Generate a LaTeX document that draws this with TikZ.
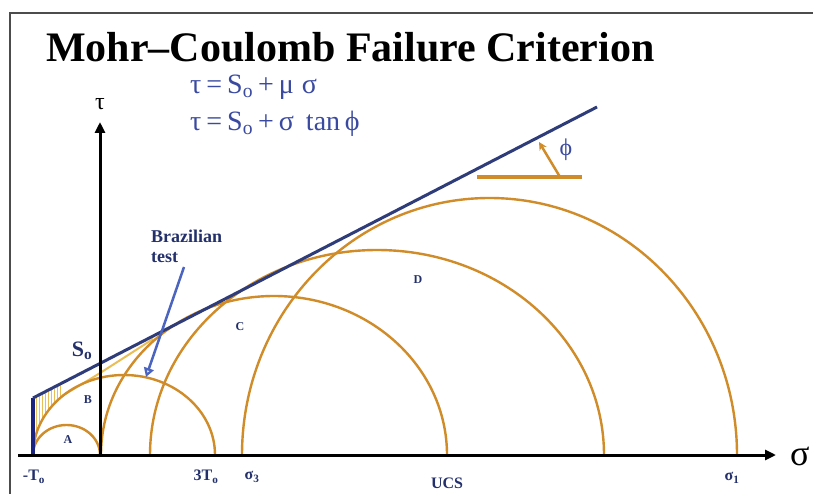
\documentclass[tikz,border=0pt]{standalone}
\usepackage{fontspec}
\setmainfont{Liberation Serif}
\usetikzlibrary{arrows.meta}
\definecolor{env}{HTML}{2E3C7A}
\definecolor{ora}{HTML}{D08C28}
\definecolor{yel}{HTML}{E9BE55}
\definecolor{navy}{HTML}{23306B}
\definecolor{eqblue}{HTML}{3A4AA0}
\definecolor{brz}{HTML}{4A64C0}
\definecolor{tzero}{HTML}{1A2380}
\newcommand{\opsp}{\hspace{5pt}}
\begin{document}
\begin{tikzpicture}[x=1pt,y=-1pt,
  circ/.style={ora, line width=2.4pt},
  lab/.style={font=\bfseries\fontsize{16}{16}\selectfont, text=navy, inner sep=0pt},
  small/.style={font=\bfseries\fontsize{12}{12}\selectfont, text=navy, inner sep=0pt},
  eq/.style={font=\fontsize{28}{28}\selectfont, text=eqblue, inner sep=0pt, anchor=base west},
  axis/.style={line width=3pt, black, -{Triangle[length=11pt,width=10pt]}}]
\useasboundingbox (0,0) rectangle (813,494);
\fill[white] (0,0) rectangle (813,494);
% frame
\draw[line width=2pt, black!70] (10,520) -- (10,13) -- (830,13);
% title
\node[anchor=base west, inner sep=0pt, font=\bfseries\fontsize{42}{42}\selectfont] (title) at (46,62) {Mohr–Coulomb Failure Criterion};
% equations
\node[eq] (eq1) at (190,94) {τ\opsp=\opsp S\textsubscript{o}\opsp+\opsp μ\hspace{8pt}σ};
\node[eq] (eq2) at (190,131) {τ\opsp=\opsp S\textsubscript{o}\opsp+\opsp σ\hspace{12pt}tan\,ϕ};
% hatching
\foreach \xx in {36,39,...,60}{
  \pgfmathsetmacro\yt{398-0.505*(\xx-33)+1.5}
  \pgfmathsetmacro\yb{455-80*sqrt(1-((\xx-124)/91)^2)-1}
  \draw[yel, line width=0.8pt] (\xx,\yt) -- (\xx,\yb);}
% curved envelope part
\draw[yel, line width=2pt] plot[smooth] coordinates {(62,396) (100,373) (153,339)};
% Mohr circles
\draw[circ] (100,455) arc[start angle=0, end angle=180, x radius=33.5pt, y radius=30pt];
\draw[circ] (215,455) arc[start angle=0, end angle=180, x radius=91pt, y radius=80pt];
\draw[circ] (447,455) arc[start angle=0, end angle=180, x radius=173pt, y radius=159pt];
\draw[circ] (604,455) arc[start angle=0, end angle=180, x radius=227pt, y radius=205pt];
\draw[circ] (737,455) arc[start angle=0, end angle=180, x radius=247.5pt, y radius=257pt];
% -T0 line
\coordinate (tb) at (33,455);
\coordinate (tt) at (33,398);
\draw[tzero, line width=3.5pt] (tb) -- (tt);
% failure envelope
\coordinate (ee) at (597,107);
\draw[env, line width=3pt] (tt) -- (ee);
% phi construction
\coordinate (h1) at (477,177);
\coordinate (h2) at (582,177);
\coordinate (pa) at (560,177);
\coordinate (pb) at (539,142);
\draw[ora, line width=3.5pt] (h1) -- (h2);
\draw[ora, line width=2.5pt, -{Stealth[length=8pt,width=8pt]}] (pa) -- (pb);
\node[font=\fontsize{24}{24}\selectfont, text=eqblue, inner sep=0pt] (phi) at (566,150) {ϕ};
% axes
\coordinate (xs) at (18,455);
\coordinate (xe) at (776,455);
\coordinate (ys) at (100,456);
\coordinate (ye) at (100,122);
\draw[axis] (xs) -- (xe);
\draw[axis] (ys) -- (ye);
\node[font=\fontsize{24}{24}\selectfont, inner sep=0pt] (tau) at (100,104) {τ};
\node[font=\fontsize{36}{36}\selectfont, inner sep=0pt, anchor=west] (sig) at (790,456) {σ};
% Brazilian test
\node[lab, anchor=west, font=\bfseries\fontsize{18}{18}\selectfont] (br1) at (151,236) {Brazilian};
\node[lab, anchor=west, font=\bfseries\fontsize{18}{18}\selectfont] (br2) at (151,258) {test};
\coordinate (ba) at (184,267);
\coordinate (bb) at (146,377);
\draw[brz, line width=2.5pt, -{Triangle[open, length=9pt, width=10pt, fill=white]}] (ba) -- (bb);
% labels
\node[lab, font=\bfseries\fontsize{22}{22}\selectfont] (so) at (82,351) {S\textsubscript{o}};
\node[small] (la) at (68,440) {A};
\node[small] (lb) at (88,400) {B};
\node[small] (lc) at (240,327) {C};
\node[small] (ld) at (418,280) {D};
\node[lab] (lto) at (34,477) {-T\textsubscript{o}};
\node[lab] (l3t) at (206,477) {3T\textsubscript{o}};
\node[lab] (ls3) at (252,477) {σ\textsubscript{3}};
\node[lab] (lucs) at (447,483) {UCS};
\node[lab] (ls1) at (732,478) {σ\textsubscript{1}};
\end{tikzpicture}
\end{document}
